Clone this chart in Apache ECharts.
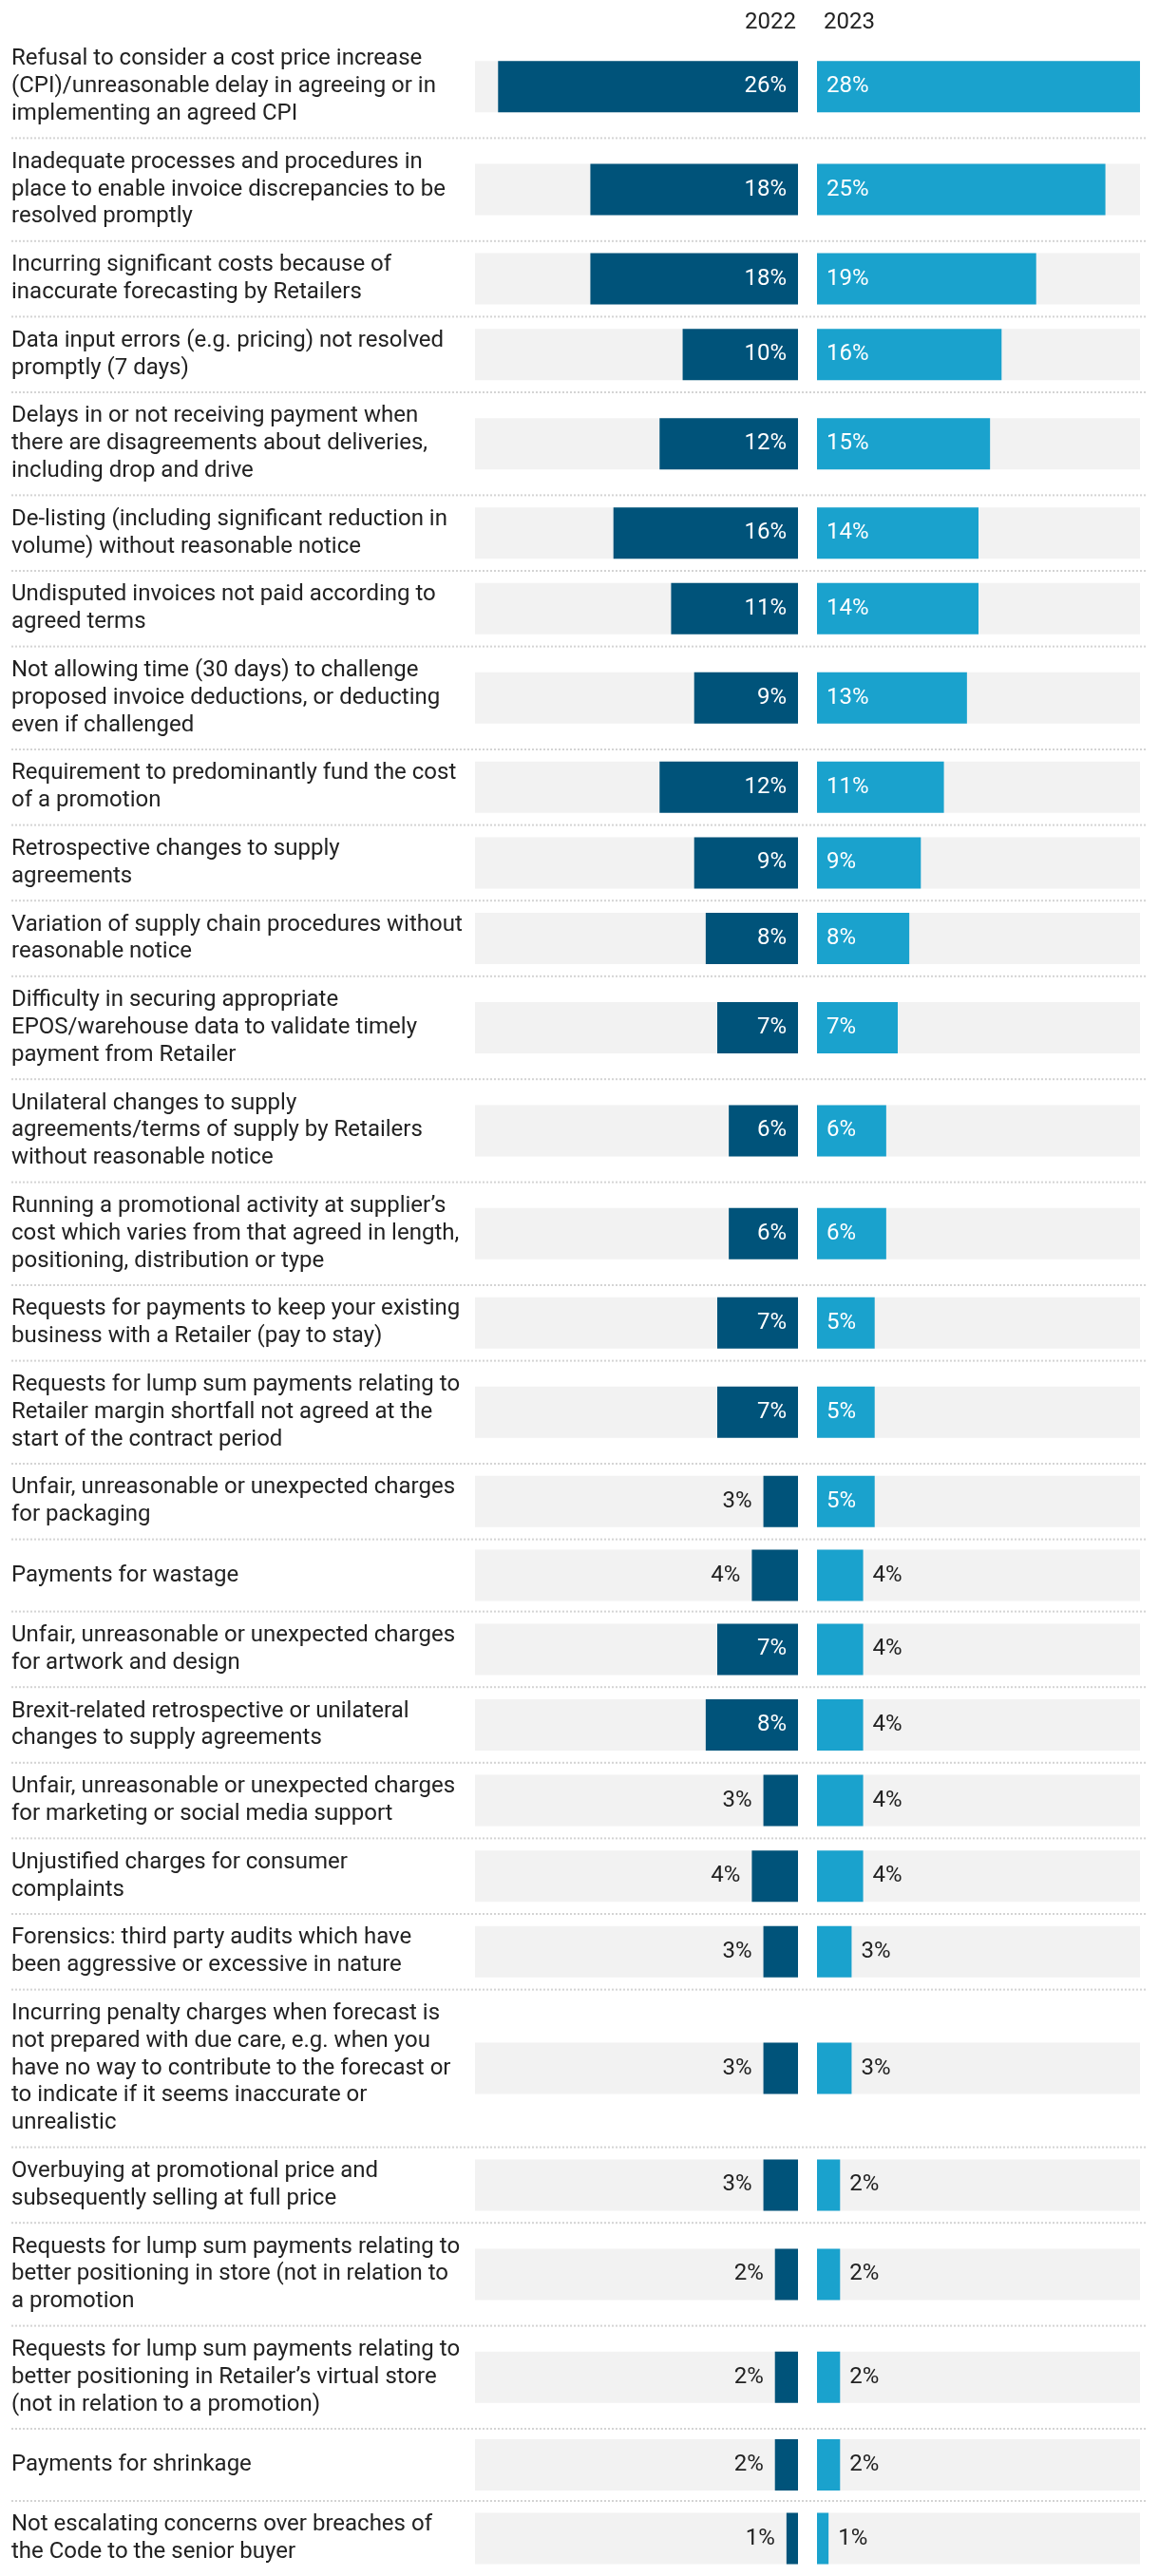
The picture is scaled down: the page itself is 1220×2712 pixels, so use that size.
<!DOCTYPE html>
<html>
<head>
<meta charset="utf-8">
<script src="https://cdn.jsdelivr.net/npm/echarts@6/dist/echarts.min.js"></script>
<style>
html,body{margin:0;padding:0;background:#fff;}
#chart{width:1220px;height:2712px;}
</style>
</head>
<body>
<div id="chart"></div>
<script>
// ---------------- DATA ----------------
const years = ['2022', '2023'];

const categories = [
  'Refusal to consider a cost price increase\n(CPI)/unreasonable delay in agreeing or in\nimplementing an agreed CPI',
  'Inadequate processes and procedures in\nplace to enable invoice discrepancies to be\nresolved promptly',
  'Incurring significant costs because of\ninaccurate forecasting by Retailers',
  'Data input errors (e.g. pricing) not resolved\npromptly (7 days)',
  'Delays in or not receiving payment when\nthere are disagreements about deliveries,\nincluding drop and drive',
  'De-listing (including significant reduction in\nvolume) without reasonable notice',
  'Undisputed invoices not paid according to\nagreed terms',
  'Not allowing time (30 days) to challenge\nproposed invoice deductions, or deducting\neven if challenged',
  'Requirement to predominantly fund the cost\nof a promotion',
  'Retrospective changes to supply\nagreements',
  'Variation of supply chain procedures without\nreasonable notice',
  'Difficulty in securing appropriate\nEPOS/warehouse data to validate timely\npayment from Retailer',
  'Unilateral changes to supply\nagreements/terms of supply by Retailers\nwithout reasonable notice',
  'Running a promotional activity at supplier\u2019s\ncost which varies from that agreed in length,\npositioning, distribution or type',
  'Requests for payments to keep your existing\nbusiness with a Retailer (pay to stay)',
  'Requests for lump sum payments relating to\nRetailer margin shortfall not agreed at the\nstart of the contract period',
  'Unfair, unreasonable or unexpected charges\nfor packaging',
  'Payments for wastage',
  'Unfair, unreasonable or unexpected charges\nfor artwork and design',
  'Brexit-related retrospective or unilateral\nchanges to supply agreements',
  'Unfair, unreasonable or unexpected charges\nfor marketing or social media support',
  'Unjustified charges for consumer\ncomplaints',
  'Forensics: third party audits which have\nbeen aggressive or excessive in nature',
  'Incurring penalty charges when forecast is\nnot prepared with due care, e.g. when you\nhave no way to contribute to the forecast or\nto indicate if it seems inaccurate or\nunrealistic',
  'Overbuying at promotional price and\nsubsequently selling at full price',
  'Requests for lump sum payments relating to\nbetter positioning in store (not in relation to\na promotion',
  'Requests for lump sum payments relating to\nbetter positioning in Retailer\u2019s virtual store\n(not in relation to a promotion)',
  'Payments for shrinkage',
  'Not escalating concerns over breaches of\nthe Code to the senior buyer'
];

const values2022 = [26, 18, 18, 10, 12, 16, 11, 9, 12, 9, 8, 7, 6, 6, 7, 7, 3, 4, 7, 8, 3, 4, 3, 3, 3, 2, 2, 2, 1];
const values2023 = [28, 25, 19, 16, 15, 14, 14, 13, 11, 9, 8, 7, 6, 6, 5, 5, 5, 4, 4, 4, 4, 4, 3, 3, 2, 2, 2, 2, 1];

const axisMax = 28;

// ---------------- STYLE / LAYOUT ----------------
const FONT = 'Roboto, "Noto Sans", Arial, sans-serif';
const FS = 24;
const LH = 28.8;
const C22 = '#00537a';
const C23 = '#1aa2cd';
const BG = '#f2f2f2';
const TXT = '#222222';
const headerH = 37;
const rowPad = 22;
const leftX = 500, rightX = 860, plotW = 340, textX = 12;
const barW = 54;
const insideMin = 5;

const grids = [], xAxes = [], yAxes = [], series = [], graphics = [];

let yPos = headerH;
categories.forEach((cat, i) => {
  const lines = cat.split('\n').length;
  const h = Math.max(barW + rowPad, rowPad + LH * lines);
  const gl = grids.length;
  grids.push({ left: leftX, top: yPos, width: plotW, height: h, containLabel: false });
  grids.push({ left: rightX, top: yPos, width: plotW, height: h, containLabel: false });

  xAxes.push({ type: 'value', gridIndex: gl, min: 0, max: axisMax, inverse: true, show: false });
  xAxes.push({ type: 'value', gridIndex: gl + 1, min: 0, max: axisMax, show: false });

  yAxes.push({
    type: 'category', gridIndex: gl, data: [cat],
    axisLine: { show: false }, axisTick: { show: false }, splitLine: { show: false },
    axisLabel: {
      show: true, align: 'left', margin: leftX - textX,
      fontFamily: FONT, fontSize: FS, lineHeight: LH, color: TXT, interval: 0
    }
  });
  yAxes.push({ type: 'category', gridIndex: gl + 1, data: [cat], show: false });

  const v1 = values2022[i], v2 = values2023[i];
  const in1 = v1 >= insideMin, in2 = v2 >= insideMin;

  series.push({
    type: 'bar', name: years[0], xAxisIndex: gl, yAxisIndex: gl,
    barWidth: barW, showBackground: true, backgroundStyle: { color: BG },
    itemStyle: { color: C22 },
    data: [{
      value: v1,
      label: {
        show: true, position: in1 ? 'insideRight' : 'left', distance: 12,
        color: in1 ? '#ffffff' : TXT, fontFamily: FONT, fontSize: FS,
        formatter: '{c}%'
      }
    }],
    animation: false, silent: true
  });
  series.push({
    type: 'bar', name: years[1], xAxisIndex: gl + 1, yAxisIndex: gl + 1,
    barWidth: barW, showBackground: true, backgroundStyle: { color: BG },
    itemStyle: { color: C23 },
    data: [{
      value: v2,
      label: {
        show: true, position: in2 ? 'insideLeft' : 'right', distance: 10,
        color: in2 ? '#ffffff' : TXT, fontFamily: FONT, fontSize: FS,
        formatter: '{c}%'
      }
    }],
    animation: false, silent: true
  });

  yPos += h;
  if (i < categories.length - 1) {
    graphics.push({
      type: 'line', silent: true,
      shape: { x1: textX, y1: yPos, x2: 1208, y2: yPos },
      style: { stroke: '#d4d4d4', lineWidth: 2, lineDash: [2, 2] }
    });
  }
});

graphics.push({
  type: 'text', silent: true,
  style: { text: years[0], x: leftX + plotW - 2, y: 24, font: FS + 'px ' + FONT,
           fill: TXT, align: 'right', verticalAlign: 'middle', textAlign: 'right', textVerticalAlign: 'middle' }
});
graphics.push({
  type: 'text', silent: true,
  style: { text: years[1], x: rightX + 7, y: 24, font: FS + 'px ' + FONT,
           fill: TXT, align: 'left', verticalAlign: 'middle', textAlign: 'left', textVerticalAlign: 'middle' }
});

const chart = echarts.init(document.getElementById('chart'), null, { renderer: 'canvas' });
chart.setOption({
  animation: false,
  backgroundColor: '#ffffff',
  grid: grids,
  xAxis: xAxes,
  yAxis: yAxes,
  series: series,
  graphic: graphics
});
</script>
</body>
</html>
